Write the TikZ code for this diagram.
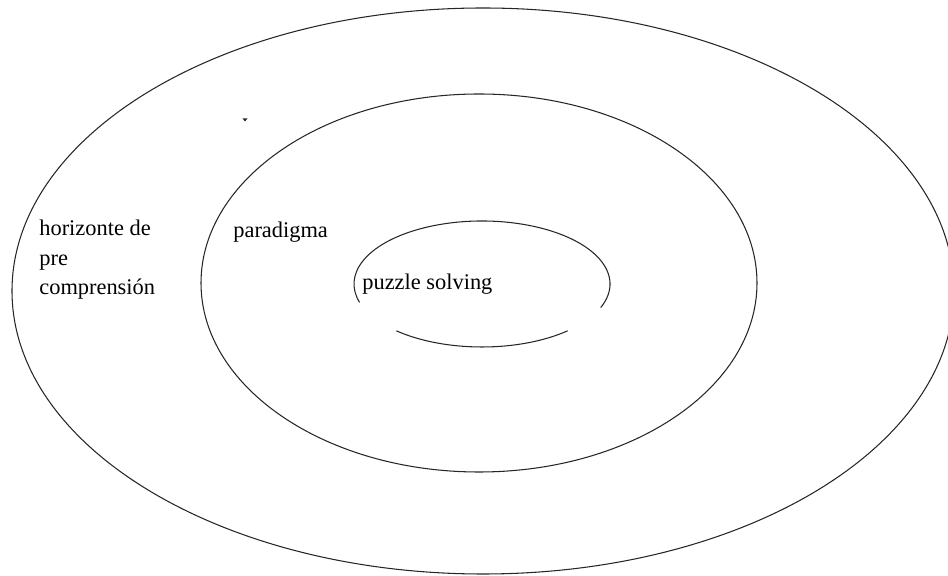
\documentclass[tikz,border=0pt]{standalone}
\usepackage{fontspec}
\setmainfont{Liberation Serif}
\usepackage{tikz}
\usetikzlibrary{arrows.meta,calc,positioning}
\tikzset{
  ring/.style={draw=black!85,line width=0.6pt},
  lab/.style={font=\fontsize{12.75}{17}\selectfont,inner sep=0pt,
    anchor=base west,align=left}
}

\begin{document}
\begin{tikzpicture}[scale=1.0,>=Latex]
  \clip (0,0) rectangle (18.96,11.52);
  % the three rings
  \draw[ring] (9.66,5.70) ellipse [x radius=9.42,y radius=5.66];
  \draw[ring] (9.58,5.86) ellipse [x radius=5.56,y radius=3.78];
  \draw[ring] (9.64,5.84) ++(-22:2.56 and 1.26)
    arc[start angle=-22,end angle=197,x radius=2.56,y radius=1.26];
  \draw[ring] (9.64,5.84) ++(228:2.56 and 1.26)
    arc[start angle=228,end angle=312,x radius=2.56,y radius=1.26];
  \fill[black!85] (4.85,9.15) -- (4.95,9.15) -- (4.90,9.09) -- cycle;
  \node[lab] (horizonte) at (0.78,5.62) {horizonte de\\pre\\comprensión};
  \node[lab] (paradigma) at (4.66,6.76) {paradigma};
  \node[lab] (puzzle) at (7.24,5.72) {puzzle solving};
\end{tikzpicture}
\end{document}
